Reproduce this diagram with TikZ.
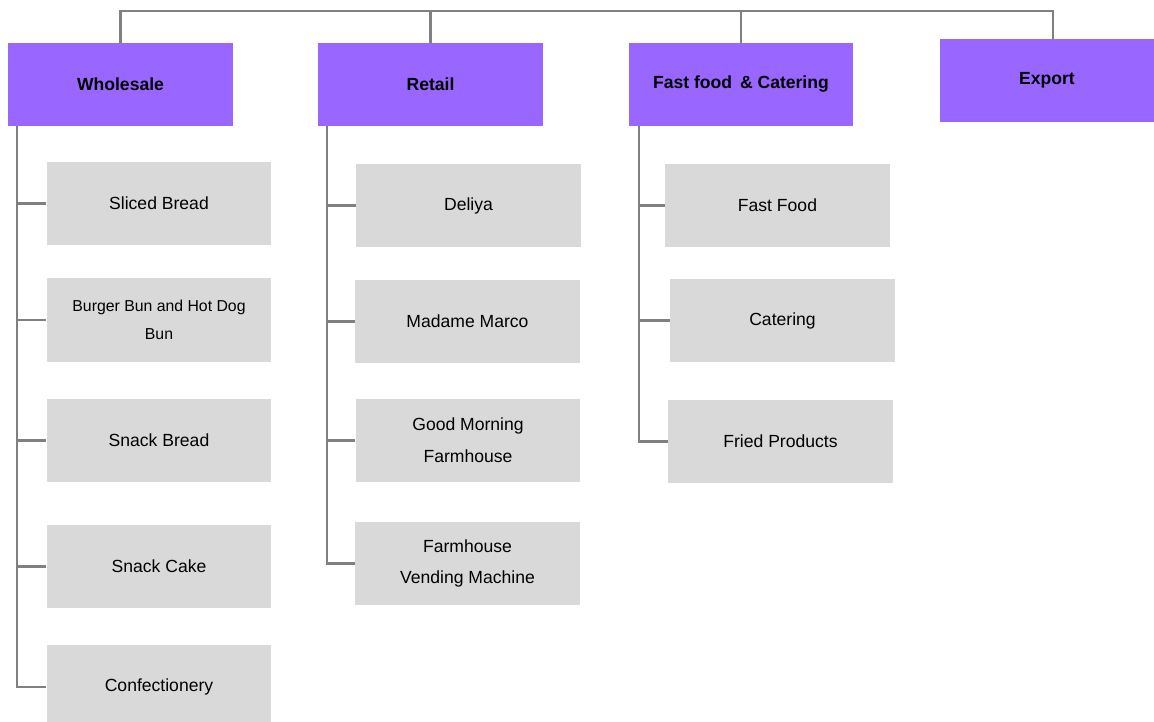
\documentclass[tikz,border=0pt]{standalone}
\usepackage{fontspec}
\setmainfont{Liberation Sans}
\usepackage{tikz}
\usetikzlibrary{positioning}

\definecolor{headpurple}{HTML}{9966FF}
\definecolor{subgray}{HTML}{D9D9D9}
\definecolor{linkgray}{HTML}{808080}

\begin{document}
\begin{tikzpicture}[x=0.02cm,y=-0.02cm,
                    head node/.style={rectangle,fill=headpurple,minimum width=4.5cm,minimum height=1.66cm,
                                      inner sep=0pt,font=\fontsize{10}{12}\selectfont\bfseries},
                    sub node/.style={rectangle,fill=subgray,minimum width=4.5cm,minimum height=1.68cm,
                                     inner sep=0pt,align=center,font=\fontsize{10}{18}\selectfont},
                    link/.style={draw=linkgray,line width=1.2pt}]

  \useasboundingbox (0,0) rectangle (1154,722);

  % headers
  \node[head node] (wh) at (120.5,84.5) {Wholesale};
  \node[head node] (re) at (430.5,84.5) {Retail};
  \node[head node] (ff) at (741,84.5) {Fast food \,\& Catering};
  \node[head node,minimum width=4.28cm] (ex) at (1047,80.5) {Export};

  % wholesale
  \node[sub node] (w1) at (159,203.5) {Sliced Bread};
  \node[sub node,font=\fontsize{9}{16}\selectfont] (w2) at (159,320) {Burger Bun and Hot Dog\\Bun};
  \node[sub node] (w3) at (159,440.5) {Snack Bread};
  \node[sub node] (w4) at (159,566.5) {Snack Cake};
  \node[sub node] (w5) at (159,687) {Confectionery};

  % retail
  \node[sub node] (r1) at (468.5,205.5) {Deliya};
  \node[sub node] (r2) at (467.5,321.5) {Madame Marco};
  \node[sub node] (r3) at (468,440.5) {Good Morning\\Farmhouse};
  \node[sub node] (r4) at (467.5,563.5) {Farmhouse\\Vending Machine};

  % fast food & catering
  \node[sub node] (f1) at (777.5,205.5) {Fast Food};
  \node[sub node] (f2) at (782.5,320.5) {Catering};
  \node[sub node] (f3) at (780.5,441.5) {Fried Products};

  % top bar
  \coordinate (bar) at (0,11);
  \draw[link] (wh.north) -- (wh.north |- bar) -| ([xshift=0.12cm]ex.north);
  \draw[link] (re.north) -- (re.north |- bar);
  \draw[link] (ff.north) -- (ff.north |- bar);

  % trunks
  \coordinate (wt) at ([xshift=0.18cm]wh.south west);
  \coordinate (rt) at ([xshift=0.18cm]re.south west);
  \coordinate (ft) at ([xshift=0.22cm]ff.south west);

  \draw[link] (wt) |- (w5.west);
  \draw[link] (rt) |- (r4.west);
  \draw[link] (ft) |- (f3.west);

  \foreach \n in {w1,w2,w3,w4}
    \draw[link] (\n.west -| wt) -- (\n.west);
  \foreach \n in {r1,r2,r3}
    \draw[link] (\n.west -| rt) -- (\n.west);
  \foreach \n in {f1,f2}
    \draw[link] (\n.west -| ft) -- (\n.west);

\end{tikzpicture}
\end{document}
